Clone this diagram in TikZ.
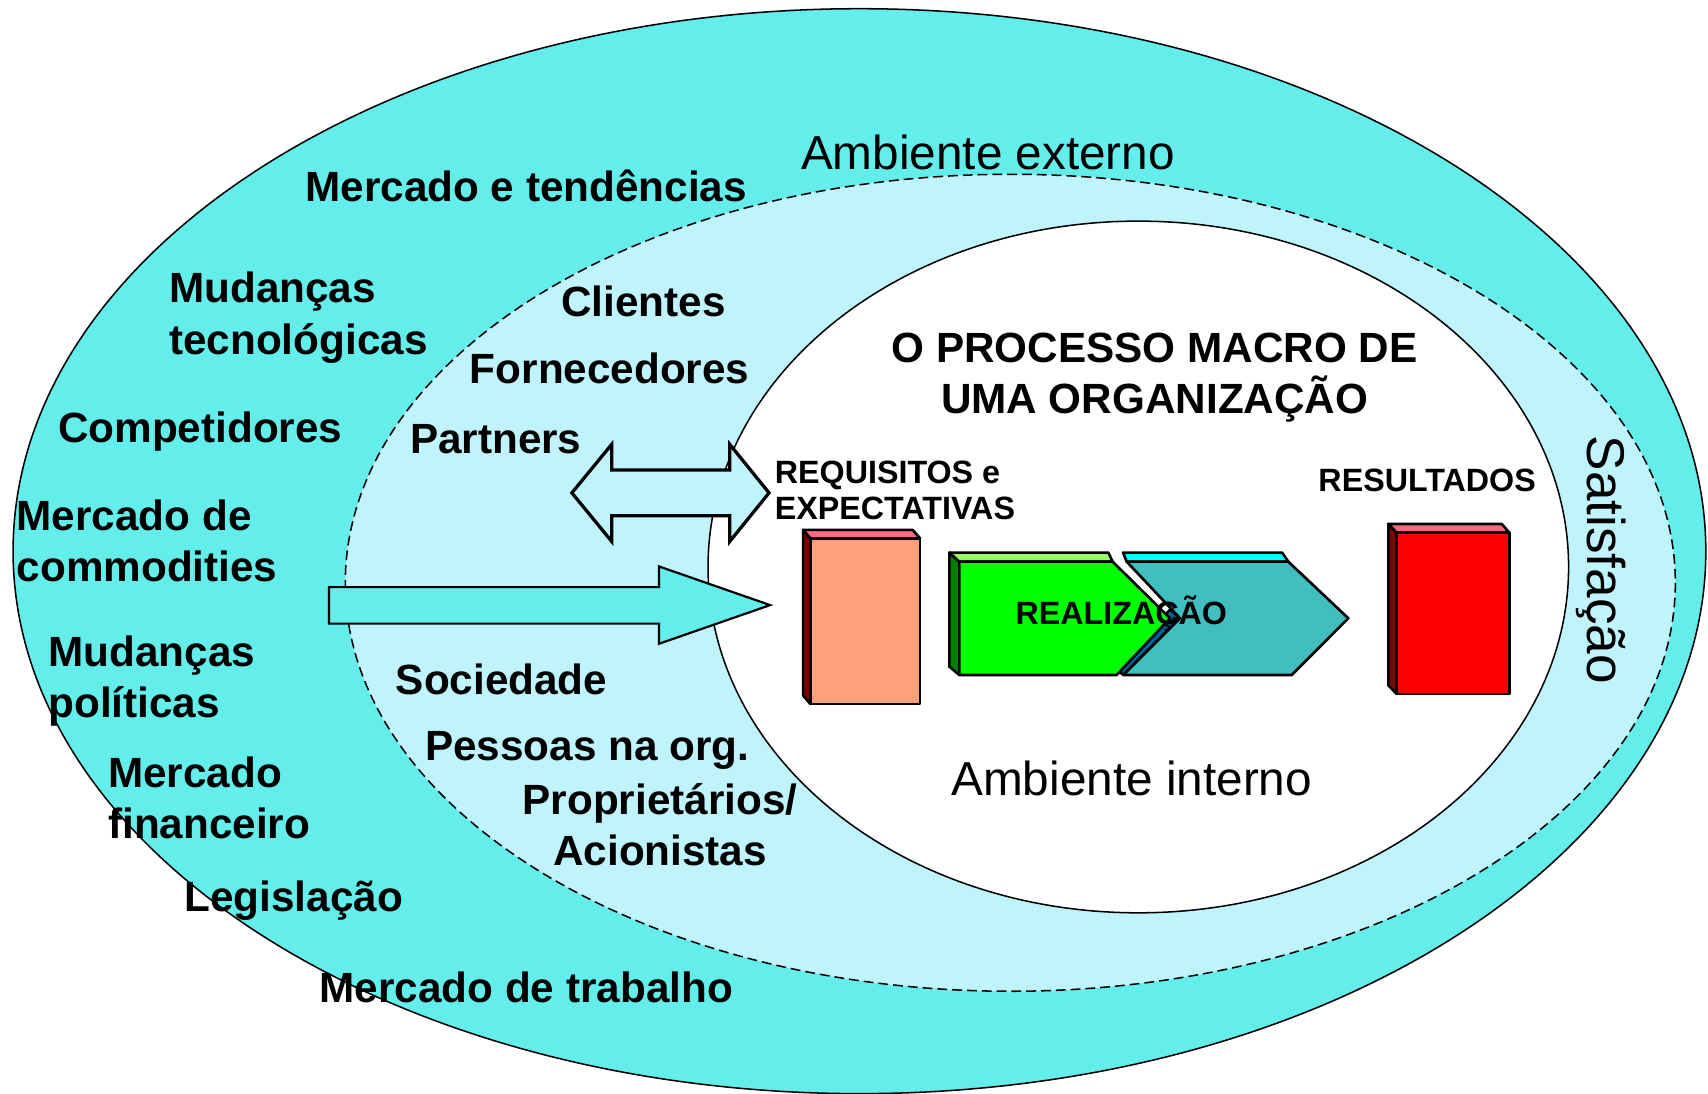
\documentclass[tikz,border=0pt]{standalone}
\usepackage{fontspec}
\setmainfont{Liberation Sans}
\usetikzlibrary{positioning}

\definecolor{outercyan}{RGB}{100,238,235}
\definecolor{lightblue}{RGB}{192,244,252}
\definecolor{peach}{RGB}{255,160,122}
\definecolor{pinktop}{RGB}{255,102,128}
\definecolor{darkred}{RGB}{128,0,0}
\definecolor{greenfront}{RGB}{0,255,0}
\definecolor{greentop}{RGB}{153,255,102}
\definecolor{greenside}{RGB}{0,128,0}
\definecolor{tealfront}{RGB}{64,190,192}
\definecolor{tealtop}{RGB}{0,255,255}
\definecolor{tealside}{RGB}{0,102,153}

\begin{document}
\begin{tikzpicture}[x=0.5pt, y=-0.5pt,
  extlbl/.style={font=\fontsize{19.4pt}{23.5pt}\selectfont\bfseries, inner sep=0pt, anchor=base west, align=left},
  boxlbl/.style={font=\fontsize{14.8pt}{16.5pt}\selectfont\bfseries, inner sep=0pt, anchor=base west, align=left},
  envlbl/.style={font=\fontsize{21.9pt}{26pt}\selectfont, inner sep=0pt, anchor=base west},
  boxline/.style={draw=black, line width=1.2pt, line join=round}]
  \useasboundingbox (0,0) rectangle (1568,1004);

  % Define the centres of the three ellipses
  \coordinate (outer) at (789,506);
  \coordinate (middle) at (927.5,535);
  \coordinate (inner) at (1045,520.5);

  % Draw the external environment, the dashed ring and the organisation
  \draw[fill=outercyan, line width=0.7pt] (outer) ellipse [x radius=777, y radius=498];
  \draw[fill=lightblue, line width=0.7pt, dash pattern=on 4.5pt off 2.3pt] (middle) ellipse [x radius=610.5, y radius=375];
  \draw[fill=white, line width=0.7pt] (inner) ellipse [x radius=395, y radius=317.5];

  % Double arrow (partners <-> requisitos)
  \draw[fill=lightblue, line width=1.5pt, line join=miter]
    (525,452.5) -- (561.5,408) -- (561.5,431.5) -- (670,431.5) -- (670,408) -- (706,452.5)
    -- (670,497) -- (670,473.5) -- (561.5,473.5) -- (561.5,497) -- cycle;

  % Big arrow into the organisation
  \draw[fill=outercyan, line width=1pt, line join=miter]
    (302,539) -- (605,539) -- (605,520) -- (707,555.5) -- (605,591) -- (605,572.5) -- (302,572.5) -- cycle;

  % Requisitos box
  \draw[boxline, fill=darkred] (744,494.2) -- (737.3,486.5) -- (737.3,638.6) -- (744,646.3) -- cycle;
  \draw[boxline, fill=pinktop] (744,494.2) -- (737.3,486.5) -- (837.9,486.5) -- (844.6,494.2) -- cycle;
  \draw[boxline, fill=peach] (744,494.2) rectangle (844.6,646.3);

  % Second chevron (teal)
  \draw[boxline, fill=tealside] (1031.2,619.7) -- (1083.3,567.6) -- (1074.3,559.6) -- (1022,611.7) -- cycle;
  \draw[boxline, fill=tealtop] (1034.3,515.6) -- (1031,507.3) -- (1177,507.3) -- (1182.7,515.6) -- cycle;
  \draw[boxline, fill=tealfront] (1034.3,515.6) -- (1182.7,515.6) -- (1237.8,567.6) -- (1185.8,619.7)
    -- (1031.2,619.7) -- (1083.3,567.6) -- cycle;

  % First chevron (green)
  \draw[boxline, fill=greenside] (880.7,515.6) -- (871.5,507.3) -- (871.5,612) -- (880.7,619.7) -- cycle;
  \draw[boxline, fill=greentop] (880.7,515.6) -- (871.5,507.3) -- (1017.5,507.3) -- (1021.4,515.6) -- cycle;
  \draw[boxline, fill=greenfront] (880.7,515.6) -- (1021.4,515.6) -- (1074.1,567.6) -- (1025.1,619.7)
    -- (880.7,619.7) -- cycle;

  % Resultados box
  \draw[boxline, fill=darkred] (1282.2,489) -- (1274.5,481) -- (1274.5,629.1) -- (1282.2,637.1) -- cycle;
  \draw[boxline, fill=pinktop] (1282.2,489) -- (1274.5,481) -- (1378.6,481) -- (1385.6,489) -- cycle;
  \draw[boxline, fill=red] (1282.2,489) rectangle (1385.6,637.1);

  % Labels of the external environment
  \node[extlbl] (tendencias) at (280,185) {Mercado e tendências};
  \node[extlbl] (tecnologia) at (155,325) {Mudanças\\tecnológicas};
  \node[extlbl] (competidores) at (53,406) {Competidores};
  \node[extlbl] (commodities) at (15,534) {Mercado de\\commodities};
  \node[extlbl] (politica) at (44,659) {Mudanças\\políticas};
  \node[extlbl] (financeiro) at (99,770) {Mercado\\financeiro};
  \node[extlbl] (legislacao) at (169,837) {Legislação};
  \node[extlbl] (trabalho) at (293,920) {Mercado de trabalho};

  % Labels of the stakeholders
  \node[extlbl] (clientes) at (515,291) {Clientes};
  \node[extlbl] (fornecedores) at (431,352) {Fornecedores};
  \node[extlbl] (partners) at (376,416) {Partners};
  \node[extlbl] (sociedade) at (363,638) {Sociedade};
  \node[extlbl] (pessoas) at (390,698) {Pessoas na org.};
  \node[extlbl, anchor=base, align=center] (acionistas) at (606,795) {Proprietários/\\Acionistas};

  % Labels of the organisation
  \node[extlbl, anchor=base, align=center] (titulo) at (1060,380) {O PROCESSO MACRO DE\\UMA ORGANIZAÇÃO};
  \node[boxlbl] (requisitos) at (711,477) {REQUISITOS e\\EXPECTATIVAS};
  \node[boxlbl] (resultados) at (1210,451) {RESULTADOS};
  \node[boxlbl] (realizacao) at (932,573) {REALIZAÇÃO};

  % Environment names
  \node[envlbl] (externo) at (735,156) {Ambiente externo};
  \node[envlbl] (interno) at (873,730) {Ambiente interno};
  \node[font=\fontsize{24.4pt}{28pt}\selectfont, rotate=-90, inner sep=0pt] (satisfacao) at (1470,514) {Satisfação};
\end{tikzpicture}
\end{document}
